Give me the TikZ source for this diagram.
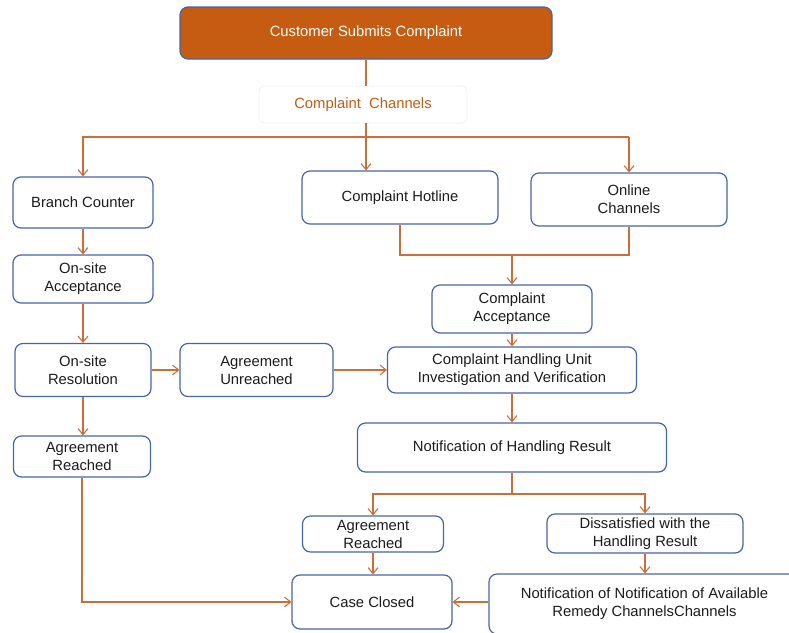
\documentclass[tikz,border=0pt]{standalone}
\usepackage{fontspec}
\setmainfont{Liberation Sans}
\usetikzlibrary{arrows.meta}
\definecolor{lineor}{RGB}{205,110,55}
\definecolor{boxblue}{RGB}{70,100,172}
\definecolor{topfill}{RGB}{197,92,18}
\definecolor{txt}{RGB}{28,28,28}
\begin{document}
\begin{tikzpicture}[x=1pt,y=-1pt,
  box/.style={draw=boxblue, line width=1.2pt, rounded corners=8pt, fill=white, align=center,
    inner sep=0pt, font=\fontsize{14.8}{18}\selectfont, text=txt},
  conn/.style={draw=lineor, line width=1.1pt},
  arr/.style={conn, -{Straight Barb[length=6pt,width=10pt]}}]
\useasboundingbox (0,0) rectangle (789,632);
% nodes
\node[box, fill=topfill, text=white, minimum width=372pt, minimum height=52pt] (top) at (366,33) {Customer Submits Complaint};
\node[box, draw=black!6, line width=0.8pt, rounded corners=5pt, text=topfill, minimum width=208pt, minimum height=37pt] (ch) at (363,104.5) {Complaint\ \ Channels};
\node[box, minimum width=140pt, minimum height=51pt] (bc) at (83,202.5) {Branch Counter};
\node[box, minimum width=196pt, minimum height=53pt] (hot) at (400,197.5) {Complaint Hotline};
\node[box, minimum width=196pt, minimum height=53pt] (on) at (629,199.5) {Online\\Channels};
\node[box, minimum width=140pt, minimum height=48pt] (osa) at (83,279) {On-site\\Acceptance};
\node[box, minimum width=136pt, minimum height=53pt] (osr) at (83,370) {On-site\\Resolution};
\node[box, minimum width=153pt, minimum height=53pt] (au) at (256.5,370) {Agreement\\Unreached};
\node[box, minimum width=160pt, minimum height=48pt] (ca) at (512,309) {Complaint\\Acceptance};
\node[box, minimum width=249pt, minimum height=46pt] (chu) at (512,370) {Complaint Handling Unit\\Investigation and Verification};
\node[box, minimum width=137pt, minimum height=41pt] (ar1) at (82,456.5) {Agreement\\Reached};
\node[box, minimum width=309pt, minimum height=49pt] (nhr) at (512,447.5) {Notification of Handling Result};
\node[box, minimum width=141pt, minimum height=36pt] (ar2) at (373,534) {Agreement\\Reached};
\node[box, minimum width=196pt, minimum height=39pt] (dis) at (645,533.5) {Dissatisfied with the\\Handling Result};
\node[box, minimum width=160pt, minimum height=54pt] (cc) at (372,602) {Case Closed};
\node[box, minimum width=311pt, minimum height=60pt] (nav) at (644.5,604) {Notification of Notification of Available\\Remedy ChannelsChannels};
% junctions
\coordinate (j1) at (366,137);
\coordinate (j2) at (512,255);
\coordinate (j3) at (512,494);
% connectors
\draw[conn] (top.south) -- (top.south |- ch.north);
\draw[conn] (ch.south -| top.south) -- (j1);
\draw[conn] (j1) -- (j1 -| on.north);
\draw[arr] (j1) -| (bc.north);
\draw[arr] (j1) -- (j1 |- hot.north);
\draw[arr] (j1 -| on.north) -- (on.north);
\draw[arr] (bc) -- (osa);
\draw[arr] (osa.south) -- (osa.south |- osr.north);
\draw[arr] (osr.east) -- (osr.east -| au.west);
\draw[arr] (au.east) -- (au.east -| chu.west);
\draw[arr] (osr.south) -- (osr.south |- ar1.north);
\draw[arr] (ar1.south) |- (cc.west);
\draw[conn] (hot.south) -- (hot.south |- j2) -- (on.south |- j2) -- (on.south);
\draw[arr] (j2) -- (ca.north);
\draw[arr] (ca) -- (chu);
\draw[arr] (chu) -- (nhr);
\draw[conn] (nhr.south) -- (j3);
\draw[arr] (j3) -| (ar2.north);
\draw[arr] (j3) -| (dis.north);
\draw[arr] (ar2.south) -- (ar2.south |- cc.north);
\draw[arr] (dis.south) -- (dis.south |- nav.north);
\draw[arr] (nav.west |- cc.east) -- (cc.east);
\end{tikzpicture}
\end{document}
